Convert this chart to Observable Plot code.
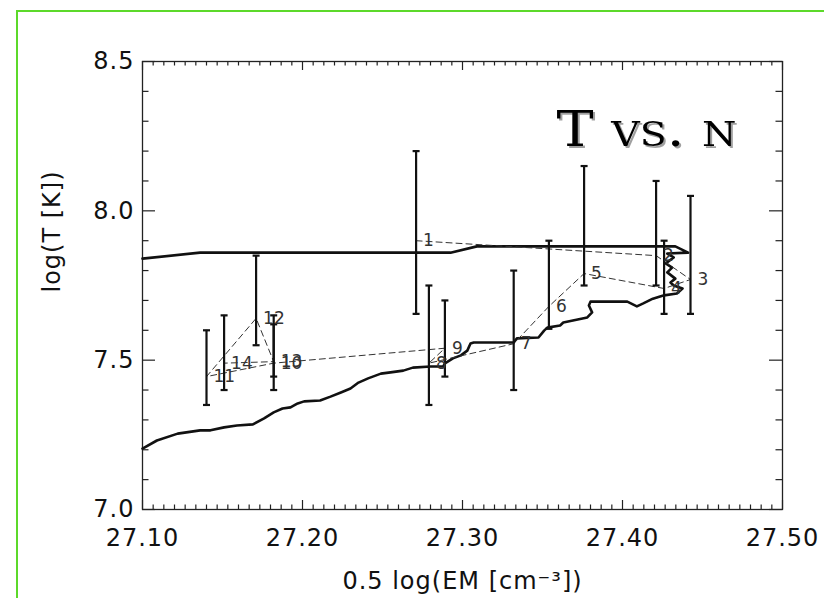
<!DOCTYPE html>
<html><head><meta charset="utf-8">
<script src="https://cdn.jsdelivr.net/npm/d3@7"></script>
<script src="https://cdn.jsdelivr.net/npm/@observablehq/plot@0.6"></script>
<style>
html,body{margin:0;padding:0;background:#fff;overflow:hidden}
#wrap{position:relative;width:824px;height:598px;overflow:hidden}
#border{position:absolute;left:16px;top:10px;width:900px;height:700px;border-left:2px solid #5cd92a;border-top:2px solid #5cd92a;}
#chart{position:absolute;left:0;top:0}
</style></head><body><div id="wrap"><div id="border"></div><div id="chart"></div></div>
<script>
// Observed points (numbered), 0.5 log EM vs log T with error bars
const pointIds  = [1, 2, 3, 4, 5, 6, 7, 8, 9, 10, 11, 12, 13, 14];
const pointEM   = [27.271, 27.421, 27.4425, 27.426, 27.376, 27.354, 27.332, 27.279, 27.289, 27.182, 27.140, 27.171, 27.182, 27.151];
const pointT    = [7.90, 7.85, 7.77, 7.74, 7.79, 7.68, 7.555, 7.49, 7.54, 7.49, 7.445, 7.64, 7.495, 7.49];
const errLow    = [7.655, 7.75, 7.655, 7.655, 7.75, 7.605, 7.40, 7.35, 7.445, 7.40, 7.35, 7.55, 7.445, 7.40];
const errHigh   = [8.20, 8.10, 8.05, 7.90, 8.15, 7.90, 7.80, 7.75, 7.70, 7.65, 7.60, 7.85, 7.62, 7.65];

// Model trajectory (solid curve)
const modelEM = [27.100, 27.109, 27.122, 27.136, 27.1425, 27.151, 27.159, 27.169, 27.176, 27.182, 27.1875, 27.1925, 27.197, 27.201, 27.211,
  27.2175, 27.224, 27.230, 27.235, 27.241, 27.249, 27.255, 27.263, 27.269, 27.280, 27.288, 27.289, 27.294, 27.299, 27.303, 27.305, 27.307,
  27.332, 27.334, 27.3475, 27.351, 27.353, 27.361, 27.363, 27.369, 27.378, 27.381, 27.379, 27.380, 27.403, 27.409, 27.413, 27.419, 27.426,
  27.434, 27.4375, 27.432, 27.430, 27.433, 27.428, 27.431, 27.427, 27.432, 27.428, 27.441, 27.433, 27.309, 27.2925, 27.136, 27.100];
const modelT = [7.204, 7.231, 7.254, 7.265, 7.265, 7.275, 7.281, 7.285, 7.305, 7.325, 7.338, 7.342, 7.355, 7.362, 7.365,
  7.378, 7.392, 7.405, 7.425, 7.439, 7.455, 7.459, 7.465, 7.475, 7.479, 7.479, 7.489, 7.506, 7.516, 7.532, 7.556, 7.559,
  7.559, 7.573, 7.576, 7.599, 7.609, 7.616, 7.626, 7.633, 7.643, 7.660, 7.683, 7.696, 7.696, 7.680, 7.690, 7.706, 7.717,
  7.723, 7.740, 7.750, 7.760, 7.773, 7.794, 7.810, 7.824, 7.844, 7.857, 7.860, 7.881, 7.881, 7.860, 7.860, 7.840];

const xTickValues = [27.10, 27.20, 27.30, 27.40, 27.50];
const yTickValues = [7.0, 7.5, 8.0, 8.5];
const xLabel = "0.5 log(EM [cm\u207B\u00B3])";
const yLabel = "log(T [K])";
const titleText = "T vs. n";

const points = pointIds.map((id, i) => ({id, em: pointEM[i], t: pointT[i], lo: errLow[i], hi: errHigh[i]}));
const model = modelEM.map((em, i) => ({em, t: modelT[i]}));

const W = 824, H = 598, mL = 142, mR = 42, mT = 61, mB = 89;
const innerW = W - mL - mR, innerH = H - mT - mB;
const xMinor = d3.range(0, 61).map(i => 27.1 + i * 0.4 / 60).filter(v => !xTickValues.some(t => Math.abs(t - v) < 1e-6));
const yMinor = d3.range(0, 16).map(i => 7 + i * 0.1).filter(v => !yTickValues.some(t => Math.abs(t - v) < 1e-6));

const capSymbol = {draw(ctx, size) { const r = Math.sqrt(size / Math.PI); ctx.moveTo(-r, 0); ctx.lineTo(r, 0); }};
const axisColor = "#222";
const sans = "'DejaVu Sans', 'Liberation Sans', sans-serif";

const chart = Plot.plot({
  width: W, height: H,
  marginLeft: mL, marginRight: mR, marginTop: mT, marginBottom: mB,
  style: {fontFamily: sans, fontSize: "24px", letterSpacing: "1px", background: "transparent"},
  x: {domain: [27.1, 27.5], axis: null},
  y: {domain: [7.0, 8.5], axis: null},
  marks: [
    // inward ticks on all four sides
    Plot.tickX(xMinor, {x: d => d, insetTop: innerH - 4.5, stroke: axisColor, strokeWidth: 1.2}),
    Plot.tickX(xMinor, {x: d => d, insetBottom: innerH - 4.5, stroke: axisColor, strokeWidth: 1.2}),
    Plot.tickX(xTickValues, {x: d => d, insetTop: innerH - 9, stroke: axisColor, strokeWidth: 1.2}),
    Plot.tickX(xTickValues, {x: d => d, insetBottom: innerH - 9, stroke: axisColor, strokeWidth: 1.2}),
    Plot.tickY(yMinor, {y: d => d, insetRight: innerW - 6.5, stroke: axisColor, strokeWidth: 1.2}),
    Plot.tickY(yMinor, {y: d => d, insetLeft: innerW - 6.5, stroke: axisColor, strokeWidth: 1.2}),
    Plot.tickY(yTickValues, {y: d => d, insetRight: innerW - 13, stroke: axisColor, strokeWidth: 1.2}),
    Plot.tickY(yTickValues, {y: d => d, insetLeft: innerW - 13, stroke: axisColor, strokeWidth: 1.2}),
    Plot.frame({stroke: axisColor, strokeWidth: 1.3}),
    Plot.axisX(xTickValues, {tickSize: 0, tickPadding: 19, tickFormat: d3.format(".2f"), label: null, fontSize: 24, fill: "#111"}),
    Plot.axisY(yTickValues, {tickSize: 0, tickPadding: 8, tickFormat: d3.format(".1f"), label: null, fontSize: 24, fill: "#111"}),
    Plot.text([xLabel], {frameAnchor: "bottom", dy: 79, lineAnchor: "bottom", fontSize: 24, fill: "#111"}),
    Plot.text([yLabel], {frameAnchor: "left", dx: -83, dy: 7, rotate: -90, lineAnchor: "bottom", fontSize: 24, fill: "#111"}),
    // title (shadow added as a CSS drop-shadow below)
    Plot.text([titleText], {frameAnchor: "top-left", dx: 414, dy: 84, textAnchor: "start", lineAnchor: "bottom", fontFamily: "'DejaVu Serif', serif", fontSize: 48, fontVariant: "small-caps", fill: "#000"}),
    // model curve
    Plot.line(model, {x: "em", y: "t", stroke: "#111", strokeWidth: 2.6, curve: "linear"}),
    // dashed path linking the numbered points
    Plot.line(points, {x: "em", y: "t", stroke: "#333", strokeWidth: 1, strokeDasharray: "6,4"}),
    // error bars
    Plot.ruleX(points, {x: "em", y1: "lo", y2: "hi", stroke: "#111", strokeWidth: 2.2}),
    Plot.dot(points, {x: "em", y: "lo", symbol: capSymbol, r: 3.5, stroke: "#111", strokeWidth: 2.2, fill: "none"}),
    Plot.dot(points, {x: "em", y: "hi", symbol: capSymbol, r: 3.5, stroke: "#111", strokeWidth: 2.2, fill: "none"}),
    // numbers
    Plot.text(points, {x: "em", y: "t", text: d => String(d.id), dx: 7, textAnchor: "start", fontSize: 17, fill: "#333"})
  ]
});

chart.querySelectorAll("text").forEach(t => {
  if (t.textContent === titleText) {
    t.setAttribute("textLength", 180);
    t.setAttribute("lengthAdjust", "spacingAndGlyphs");
    t.style.letterSpacing = "0px";
    t.style.filter = "drop-shadow(2px 2px 0px #a0a0a0)";
  }
});
chart.querySelectorAll("g[aria-label='text'] text").forEach(t => {
  if (/^\d+$/.test(t.textContent)) t.style.letterSpacing = "0px";
});
document.getElementById("chart").appendChild(chart);
</script>
</body></html>
